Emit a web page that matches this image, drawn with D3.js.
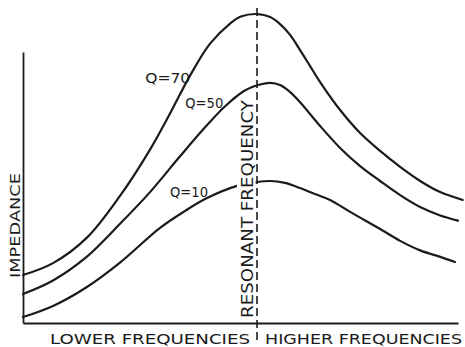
<!DOCTYPE html>
<html>
<head>
<meta charset="utf-8">
<script src="https://cdn.jsdelivr.net/npm/d3@7"></script>
<style>
  html, body { margin: 0; padding: 0; background: #fff; }
  svg { display: block; }
  text { font-family: "DejaVu Sans", "Liberation Sans", sans-serif; fill: #1b1b1b; }
</style>
</head>
<body>
<svg id="chart" width="465" height="347"></svg>
<script>
// Relative frequency (0 = left edge, 100 = right end of axis) and relative impedance.
const resonance = 53.8;

const q70 = [
  [0, 17.7], [6.9, 22.1], [14.7, 31.5], [22.3, 46.9], [29.2, 64.0], [33.8, 77.3],
  [38.4, 91.3], [43.0, 103.1], [47.6, 110.5], [50.1, 113.1], [54.0, 114.0],
  [56.8, 112.9], [59.1, 110.3], [61.4, 106.3], [63.7, 100.7], [66.0, 94.8],
  [68.3, 88.9], [72.9, 78.6], [77.5, 70.1], [82.1, 63.5], [86.7, 57.6],
  [91.3, 52.4], [95.9, 48.3], [101.1, 45.4]
];
const q50 = [
  [0, 10.7], [6.9, 15.7], [14.7, 24.5], [22.3, 36.6], [29.2, 48.3], [36.1, 61.5],
  [41.8, 72.1], [46.4, 79.9], [51.0, 85.8], [54.5, 88.0], [56.8, 88.6],
  [59.1, 87.8], [61.4, 85.2], [63.7, 81.5], [68.3, 72.7], [72.9, 64.6],
  [77.5, 57.9], [82.1, 52.4], [86.7, 47.2], [91.3, 42.8], [95.9, 39.7], [100, 37.8]
];
const q10 = [
  [0, 2.2], [6.9, 6.3], [14.7, 13.3], [22.3, 22.3], [31.5, 35.1], [37.2, 41.3],
  [42.3, 46.1], [49.2, 50.6], [53.8, 52.0], [56.8, 52.4], [60.2, 51.7],
  [63.7, 49.8], [67.1, 47.6], [70.6, 45.4], [75.2, 41.0], [82.1, 34.7],
  [86.7, 30.3], [91.3, 26.8], [95.9, 24.4], [99.3, 22.5]
];

const seriesNames = ["Q=70", "Q=50", "Q=10"];
const seriesData = [q70, q50, q10];
// label anchor points (relative frequency, relative impedance) for each curve name
const labelPos = [[28.1, 88.6], [37.3, 79.3], [33.8, 46.5]];
const labelWidths = [45, 38, 38];

const svg = d3.select("#chart");
const x = d3.scaleLinear().domain([0, 100]).range([23, 458]);
const y = d3.scaleLinear().domain([0, 100]).range([323, 52]);

const ink = "#1b1b1b";

// axes: plain lines, no ticks
svg.append("g")
  .attr("transform", `translate(0,${y(0)})`)
  .call(d3.axisBottom(x).ticks(0).tickSizeOuter(0))
  .call(g => g.select(".domain").attr("stroke", ink).attr("stroke-width", 2));
svg.append("g")
  .attr("transform", `translate(${x(0)},0)`)
  .call(d3.axisLeft(y).ticks(0).tickSizeOuter(0))
  .call(g => g.select(".domain").attr("stroke", ink).attr("stroke-width", 1.8));

// response curves
const line = d3.line()
  .x(d => x(d[0]))
  .y(d => y(d[1]))
  .curve(d3.curveCatmullRom.alpha(0.5));

svg.append("g").selectAll("path")
  .data(seriesData)
  .join("path")
  .attr("d", line)
  .attr("fill", "none")
  .attr("stroke", ink)
  .attr("stroke-width", 2.2)
  .attr("stroke-linecap", "round");

// curve names
svg.append("g").selectAll("text")
  .data(seriesNames)
  .join("text")
  .attr("x", (d, i) => x(labelPos[i][0]))
  .attr("y", (d, i) => y(labelPos[i][1]))
  .attr("font-size", 14)
  .attr("textLength", (d, i) => labelWidths[i])
  .attr("lengthAdjust", "spacingAndGlyphs")
  .text(d => d);

// white band behind the vertical resonance label
const rx = x(resonance);
svg.append("rect")
  .attr("x", rx - 20).attr("y", 99)
  .attr("width", 18.5).attr("height", 221)
  .attr("fill", "#fff");

svg.append("text")
  .attr("transform", `translate(${rx - 4.5},${209}) rotate(-90)`)
  .attr("text-anchor", "middle")
  .attr("font-size", 16)
  .attr("textLength", 218)
  .attr("lengthAdjust", "spacingAndGlyphs")
  .text("RESONANT FREQUENCY");

// dashed resonance marker
svg.append("line")
  .attr("x1", rx).attr("x2", rx)
  .attr("y1", 8).attr("y2", 341)
  .attr("stroke", ink)
  .attr("stroke-width", 1.6)
  .attr("stroke-dasharray", "8,4");

// axis titles
svg.append("text")
  .attr("transform", "translate(20,225.5) rotate(-90)")
  .attr("text-anchor", "middle")
  .attr("font-size", 14)
  .attr("textLength", 105)
  .attr("lengthAdjust", "spacingAndGlyphs")
  .text("IMPEDANCE");

svg.append("text")
  .attr("x", 50).attr("y", 343.5)
  .attr("font-size", 14.5)
  .attr("textLength", 200)
  .attr("lengthAdjust", "spacingAndGlyphs")
  .text("LOWER FREQUENCIES");

svg.append("text")
  .attr("x", 265).attr("y", 343.5)
  .attr("font-size", 14.5)
  .attr("textLength", 197)
  .attr("lengthAdjust", "spacingAndGlyphs")
  .text("HIGHER FREQUENCIES");
</script>
</body>
</html>
